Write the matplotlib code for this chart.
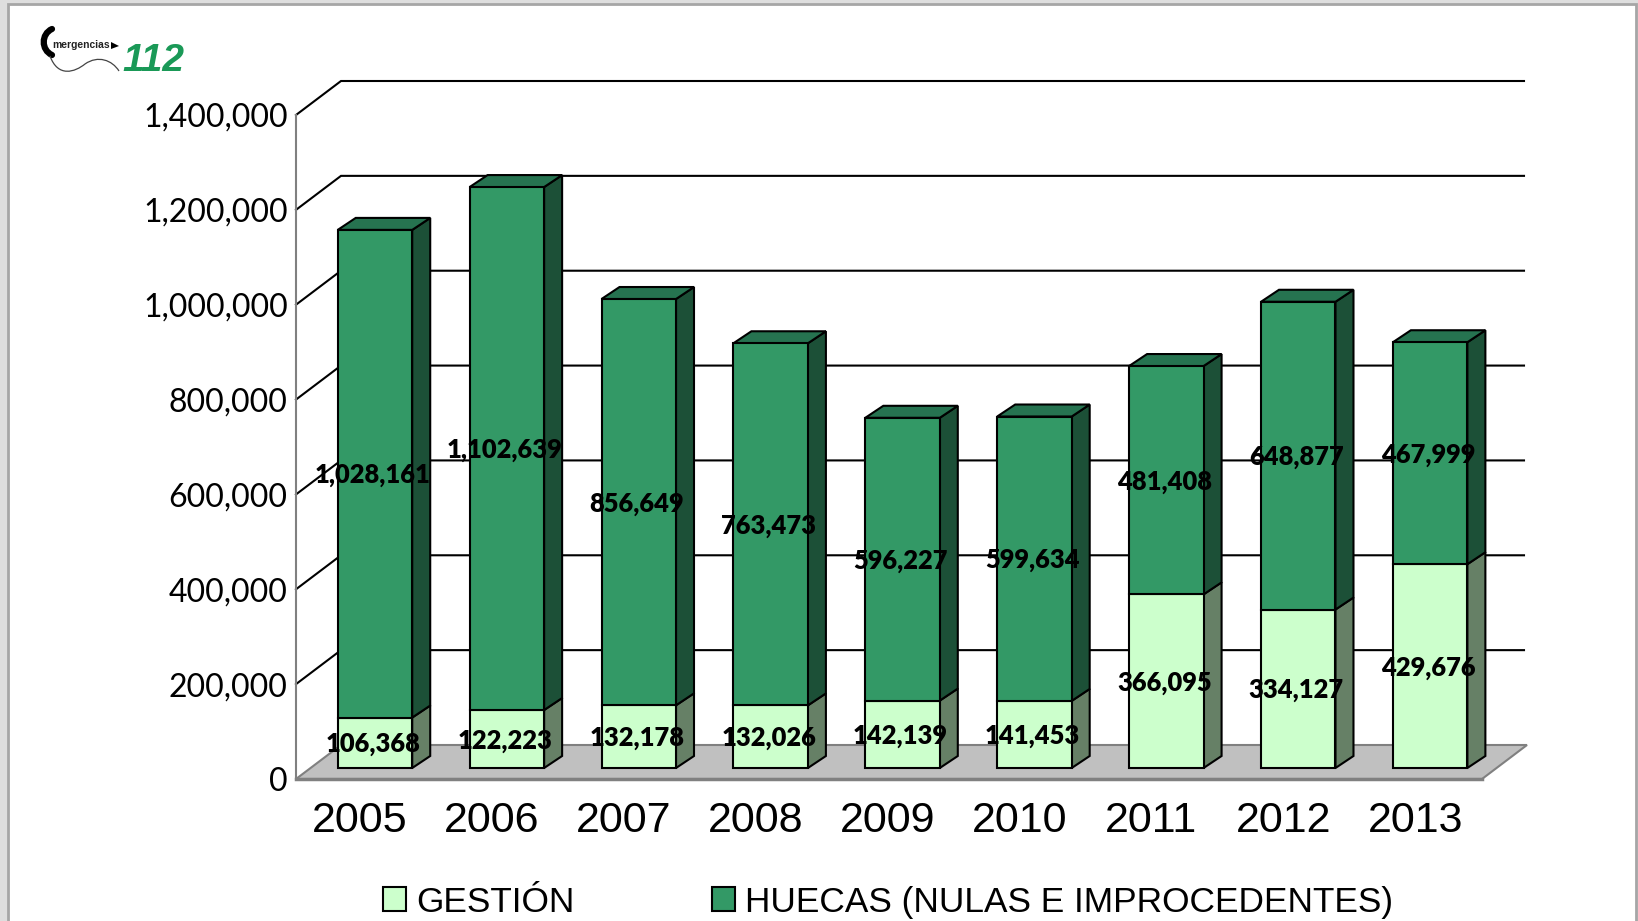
import numpy as np
import matplotlib
matplotlib.use('Agg')
import matplotlib.pyplot as plt
from matplotlib.patches import Rectangle, Polygon, PathPatch
from matplotlib.path import Path

years = ['2005', '2006', '2007', '2008', '2009', '2010', '2011', '2012', '2013']
gestion = [106368, 122223, 132178, 132026, 142139, 141453, 366095, 334127, 429676]
huecas = [1028161, 1102639, 856649, 763473, 596227, 599634, 481408, 648877, 467999]
y_ticks = [0, 200000, 400000, 600000, 800000, 1000000, 1200000, 1400000]
legend_names = ['GESTIÓN', 'HUECAS (NULAS E IMPROCEDENTES)']

W, H = 1638, 921
light = '#CCFFCC'
light_side = '#668066'
dark = '#339966'
dark_side = '#1C5037'
dark_top = '#267350'

fig = plt.figure(figsize=(W / 100, H / 100), dpi=100, facecolor='#DEDEDE')

# slide frame, in pixels
px = fig.add_axes([0, 0, 1, 1], zorder=0)
px.set_xlim(0, W)
px.set_ylim(H, 0)
px.axis('off')
px.add_patch(Rectangle((8, 4), 1628, 930, fc='white', ec='#A6A6A6', lw=2))

# logo
phone = Path([(52, 29), (41, 34), (41, 50), (52, 55)],
             [Path.MOVETO, Path.CURVE4, Path.CURVE4, Path.CURVE4])
px.add_patch(PathPatch(phone, fc='none', ec='black', lw=4.5, capstyle='round'))
px.text(52, 45, 'mergencias', family='Liberation Sans', weight='bold', fontsize=7.4,
        va='center', ha='left', color='#222222')
px.add_patch(Polygon([[111, 42], [119, 46], [111, 49]], fc='black', ec='none'))
curve = Path([(50, 56), (58, 78), (75, 72), (85, 64), (98, 55), (112, 60), (119, 71)],
             [Path.MOVETO, Path.CURVE4, Path.CURVE4, Path.CURVE4, Path.CURVE4, Path.CURVE4, Path.CURVE4])
px.add_patch(PathPatch(curve, fc='none', ec='#444444', lw=0.9))
px.text(122, 71, '112', family='Liberation Sans', weight='bold', style='italic', fontsize=28,
        va='baseline', ha='left', color='#1A9957')

# chart axes = front plane of the 3d box
ax = fig.add_axes([296 / W, 1 - 779 / H, (1482 - 296) / W, (779 - 115) / H], zorder=1)
ax.patch.set_alpha(0)
ax.set_xlim(-0.485, 8.507)
ax.set_ylim(0, 1400000)
for s in ax.spines.values():
    s.set_visible(False)

# pixels to data units
xu = (1482 - 296) / (8.507 + 0.485)
yu = (779 - 115) / 1400000
wall_x, wall_y = 45 / xu, 34 / yu
side_x, side_y = 18 / xu, 12 / yu
shift_x, lift = 15 / xu, 11 / yu
x0, x1 = ax.get_xlim()

# floor
ax.add_patch(Polygon([[x0, 0], [x1, 0], [x1 + wall_x, wall_y], [x0 + wall_x, wall_y]],
                     fc='#C0C0C0', ec='#808080', lw=1.5, clip_on=False, zorder=1))
ax.plot([x0, x1], [0, 0], color='#808080', lw=2.5, clip_on=False, zorder=1.5)

# walls
for v in y_ticks[1:]:
    ax.plot([x0, x0 + wall_x, x1 + wall_x - 3 / xu], [v, v + wall_y, v + wall_y], color='black', lw=1.5,
            clip_on=False, zorder=1, solid_joinstyle='miter')
ax.plot([x0, x0], [0, 1400000], color='#808080', lw=1.5, clip_on=False, zorder=1.5)

# bars
x = np.arange(len(years)) + shift_x
gestion = np.array(gestion)
huecas = np.array(huecas)
width = 74.5 / xu
bar_kw = dict(width=width, edgecolor='black', linewidth=1.5, clip_on=False, zorder=3)
ax.bar(x, gestion, bottom=lift, color=light, label=legend_names[0], **bar_kw)
ax.bar(x, huecas, bottom=lift + gestion, color=dark, label=legend_names[1], **bar_kw)

for xi, g, h in zip(x, gestion, huecas):
    r = xi + width / 2
    l = xi - width / 2
    low = lift
    mid = lift + g
    top = lift + g + h
    ax.add_patch(Polygon([[r, low], [r + side_x, low + side_y], [r + side_x, mid + side_y], [r, mid]],
                         fc=light_side, ec='black', lw=1.5, clip_on=False, zorder=2.5))
    ax.add_patch(Polygon([[r, mid], [r + side_x, mid + side_y], [r + side_x, top + side_y], [r, top]],
                         fc=dark_side, ec='black', lw=1.5, clip_on=False, zorder=2.5))
    ax.add_patch(Polygon([[l, top], [l + side_x, top + side_y], [r + side_x, top + side_y], [r, top]],
                         fc=dark_top, ec='black', lw=1.5, clip_on=False, zorder=2.5))
    for val, c in [(g, lift + g / 2), (h, lift + g + h / 2)]:
        ax.text(xi - 2 / xu, c - 1.5 / yu, f'{val:,}', ha='center', va='center', family='Lato', weight='heavy',
                fontsize=18.4, color='black', zorder=5)

# ticks
ax.set_yticks(y_ticks)
ax.set_yticklabels([f'{v:,}' for v in y_ticks], family='Lato', fontsize=23)
ax.set_xticks(np.arange(len(years)))
ax.set_xticklabels(years, family='Liberation Sans', fontsize=31)
ax.tick_params(axis='y', length=0, pad=6)
ax.tick_params(axis='x', length=0, pad=16)

# legend
handles, labels = ax.get_legend_handles_labels()
leg = fig.legend(handles, labels, loc='center left', bbox_to_anchor=(383 / W, 1 - 902 / H), ncol=2,
                 frameon=False, borderaxespad=0, borderpad=0, handlelength=0.64, handleheight=0.64,
                 handletextpad=0.3, columnspacing=3.9,
                 prop={'family': 'Liberation Sans', 'size': 25.4})

fig.savefig('out.png', dpi=100, facecolor=fig.get_facecolor())
